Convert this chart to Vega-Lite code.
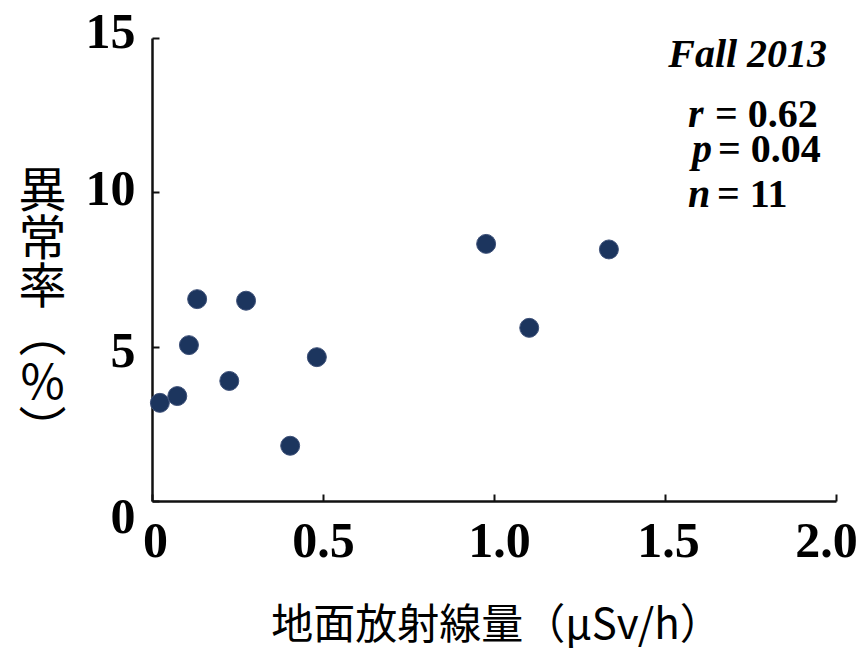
{
  "$schema": "https://vega.github.io/schema/vega-lite/v6.json",
  "autosize": "none",
  "width": 684,
  "height": 463,
  "padding": {"left": 152, "top": 38, "right": 29, "bottom": 152},
  "background": "white",
  "config": {"view": {"stroke": null}},
  "datasets": {
    "points": [
      {"dose": 0.023, "rate": 3.18},
      {"dose": 0.074, "rate": 3.40},
      {"dose": 0.108, "rate": 5.05},
      {"dose": 0.132, "rate": 6.54},
      {"dose": 0.226, "rate": 3.89},
      {"dose": 0.275, "rate": 6.49},
      {"dose": 0.404, "rate": 1.79},
      {"dose": 0.482, "rate": 4.66},
      {"dose": 0.977, "rate": 8.33},
      {"dose": 1.103, "rate": 5.61},
      {"dose": 1.336, "rate": 8.15}
    ],
    "title": [{"x": 1.974, "y": 14.06, "label": "Fall 2013"}],
    "sym": [
      {"x": 1.567, "y": 12.12, "label": "r"},
      {"x": 1.579, "y": 10.98, "label": "p"},
      {"x": 1.567, "y": 9.52, "label": "n"}
    ],
    "vals": [
      {"x": 1.646, "y": 12.12, "label": "= 0.62"},
      {"x": 1.655, "y": 10.98, "label": "= 0.04"},
      {"x": 1.652, "y": 9.52, "label": "= 11"}
    ]
  },
  "layer": [
    {
      "data": {"name": "points"},
      "mark": {"type": "circle", "size": 360, "color": "#1c355e", "opacity": 1, "stroke": "#3d5078", "strokeWidth": 1},
      "encoding": {
        "x": {
          "field": "dose", "type": "quantitative",
          "scale": {"domain": [0, 2], "nice": false, "zero": true},
          "axis": {
            "values": [0, 0.5, 1, 1.5, 2],
            "labelExpr": "datum.value == 0 ? '0' : format(datum.value, '.1f')",
            "grid": false,
            "domainColor": "#111111", "domainWidth": 2.5,
            "tickColor": "#111111", "tickWidth": 2, "tickSize": -7,
            "labelFont": "Liberation Serif", "labelFontWeight": "bold", "labelFontSize": 50,
            "labelColor": "#000000", "labelPadding": 22, "labelBaseline": "top",
            "labelFlush": false,
            "labelOffset": {"expr": "datum.value == 2 ? -10 : (datum.value == 0 ? 3 : (datum.value == 1 ? 5 : (datum.value == 1.5 ? 3 : 0)))"},
            "title": "地面放射線量（μSv/h）",
            "titleFont": "Noto Sans CJK JP", "titleFontWeight": "normal", "titleFontSize": 42,
            "titleColor": "#000000",
            "titleAnchor": "start", "titleAlign": "center", "titleBaseline": "middle",
            "titleX": 344, "titleY": 124
          }
        },
        "y": {
          "field": "rate", "type": "quantitative",
          "scale": {"domain": [0, 15], "nice": false, "zero": true},
          "axis": {
            "values": [0, 5, 10, 15],
            "grid": false,
            "domainColor": "#111111", "domainWidth": 2.5,
            "tickColor": "#111111", "tickWidth": 2, "tickSize": -7,
            "labelFont": "Liberation Serif", "labelFontWeight": "bold", "labelFontSize": 50,
            "labelColor": "#000000", "labelPadding": 24, "labelAlign": "right", "labelBaseline": "middle",
            "labelFlush": false,
            "labelOffset": {"expr": "datum.value == 0 ? 16 : (datum.value == 15 ? -6 : (datum.value == 10 ? -3 : 5))"},
            "title": ["異", "常", "率", "︵", "%", "︶"],
            "titleFont": "Noto Sans CJK JP", "titleFontWeight": "normal", "titleFontSize": 48,
            "titleColor": "#000000", "titleLineHeight": 48,
            "titleAngle": 0, "titleAlign": "center", "titleBaseline": "middle",
            "titleX": -110, "titleY": 154
          }
        }
      }
    },
    {
      "data": {"name": "title"},
      "mark": {"type": "text", "font": "Liberation Serif", "fontWeight": "bold", "fontStyle": "italic", "fontSize": 40, "align": "right", "baseline": "alphabetic", "color": "#000000"},
      "encoding": {
        "x": {"field": "x", "type": "quantitative"},
        "y": {"field": "y", "type": "quantitative"},
        "text": {"field": "label"}
      }
    },
    {
      "data": {"name": "sym"},
      "mark": {"type": "text", "font": "Liberation Serif", "fontWeight": "bold", "fontStyle": "italic", "fontSize": 40, "align": "left", "baseline": "alphabetic", "color": "#000000"},
      "encoding": {
        "x": {"field": "x", "type": "quantitative"},
        "y": {"field": "y", "type": "quantitative"},
        "text": {"field": "label"}
      }
    },
    {
      "data": {"name": "vals"},
      "mark": {"type": "text", "font": "Liberation Serif", "fontWeight": "bold", "fontSize": 40, "align": "left", "baseline": "alphabetic", "color": "#000000"},
      "encoding": {
        "x": {"field": "x", "type": "quantitative"},
        "y": {"field": "y", "type": "quantitative"},
        "text": {"field": "label"}
      }
    }
  ]
}
